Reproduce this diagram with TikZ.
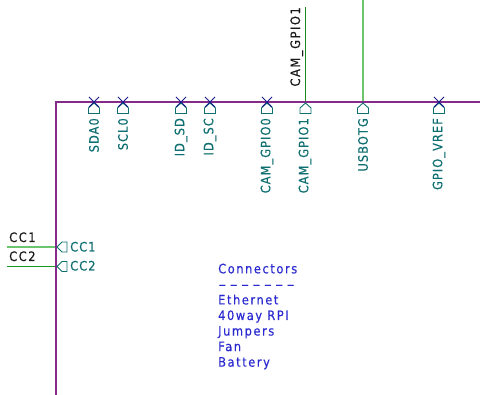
\documentclass[tikz,border=0pt]{standalone}
\usepackage{fontspec}
\usepackage{graphicx}
\setmainfont{DejaVu Sans}[LetterSpace=8,FakeStretch=0.88,FakeBold=0.25]
\newfontfamily\widerfont{DejaVu Sans}[LetterSpace=12,FakeStretch=0.88,FakeBold=0.25]
\definecolor{bus}{HTML}{862A8A}
\definecolor{teal2}{HTML}{0E6E70}
\definecolor{xblue}{HTML}{1A1A8C}
\definecolor{wirea}{HTML}{6CC46C}
\definecolor{wireb}{HTML}{1A9A1A}
\definecolor{wirec}{HTML}{1A8A1A}
\definecolor{note}{HTML}{2A2AD0}
\tikzset{
 x=1pt,y=-1pt,
 busline/.style={draw=bus,line width=1.5pt},
 pinflag/.style={draw=teal2,line width=0.9pt,line join=miter},
 nc/.style={draw=xblue,line width=0.9pt},
 hlabel/.style={text=teal2,font=\fontsize{13}{13}\selectfont,inner sep=0pt,rotate=90,anchor=east},
 clabel/.style={text=teal2,font=\fontsize{13}{13}\selectfont,inner sep=0pt,anchor=base west},
 wlabel/.style={text=black!90,font=\widerfont\fontsize{13}{13}\selectfont,inner sep=0pt},
 notetext/.style={text=note,font=\widerfont\fontsize{13}{15.55}\selectfont,inner sep=0pt,align=left,anchor=north west},
}
\newcommand{\vflag}[1]{\draw[pinflag] (#1) ++(0,1) -- ++(-5.5,5) -- ++(0,5.5) -- ++(11,0) -- ++(0,-5.5) -- cycle;}
\newcommand{\hflag}[1]{\draw[pinflag] (#1) ++(1,0) -- ++(5,-5) -- ++(5,0) -- ++(0,10) -- ++(-5,0) -- cycle;}
\newcommand{\ncx}[1]{\draw[nc] (#1) ++(-5,-5) -- ++(10,10) ++(-10,0) -- ++(10,-10);}
\begin{document}
\begin{tikzpicture}
\useasboundingbox (0,0) rectangle (480,395);
\coordinate (corner) at (56,102);
\coordinate (busend) at (480,102);
\coordinate (busdown) at (56,395);
\coordinate (sda) at (94,102);
\coordinate (scl) at (123,102);
\coordinate (idsd) at (181,102);
\coordinate (idsc) at (210,102);
\coordinate (cam0) at (267,102);
\coordinate (cam1) at (305.5,102);
\coordinate (usb) at (363,102);
\coordinate (vref) at (439,102);
\coordinate (cc1) at (56,247);
\coordinate (cc2) at (56,266.5);
\coordinate (cam1end) at (305.5,7);
\coordinate (usbend) at (363,0);
\coordinate (cc1end) at (7,247);
\coordinate (cc2end) at (7,266.5);
% wires
\draw[wirec,line width=1.3pt] (cam1end) -- (cam1);
\draw[wirea,line width=1.6pt] (usbend) -- (usb);
\draw[wirea,line width=1.6pt] (cc1end) -- (cc1);
\draw[wireb,line width=1.5pt] (cc2end) -- (cc2);
% bus
\draw[busline] (busend) -- (corner) -- (busdown);
% flags
\foreach \p in {sda,scl,idsd,idsc,cam0,cam1,usb,vref}{\vflag{\p}}
\hflag{cc1}\hflag{cc2}
\foreach \p in {sda,scl,idsd,idsc,cam0,vref}{\ncx{\p}}
% labels
\node[hlabel] (lsda) at (94,118) {SDA0};
\node[hlabel] (lscl) at (123,118) {SCL0};
\node[hlabel] (lidsd) at (181,118) {ID\_SD};
\node[hlabel] (lidsc) at (210,118) {ID\_SC};
\node[hlabel] (lcam0) at (267,118) {CAM\_GPIO0};
\node[hlabel] (lcam1) at (305,118) {CAM\_GPIO1};
\node[hlabel] (lusb) at (363,118) {USBOTG};
\node[hlabel] (lvref) at (439,118) {GPIO\_VREF};
\node[clabel] (lcc1) at (70,251.5) {CC1};
\node[clabel] (lcc2) at (70,270.5) {CC2};
\node[wlabel,rotate=90,anchor=base east] (wcam) at (300,7) {CAM\_GPIO1};
\node[wlabel,anchor=base west] (wcc1) at (9,242) {CC1};
\node[wlabel,anchor=base west] (wcc2) at (9,261) {CC2};
\node[notetext] (notes) at (218,263.5) {Connectors\\\scalebox{2.0}[1]{-{}-{}-{}-{}-{}-{}-}\\Ethernet\\40way RPI\\Jumpers\\Fan\\Battery};
\end{tikzpicture}
\end{document}
